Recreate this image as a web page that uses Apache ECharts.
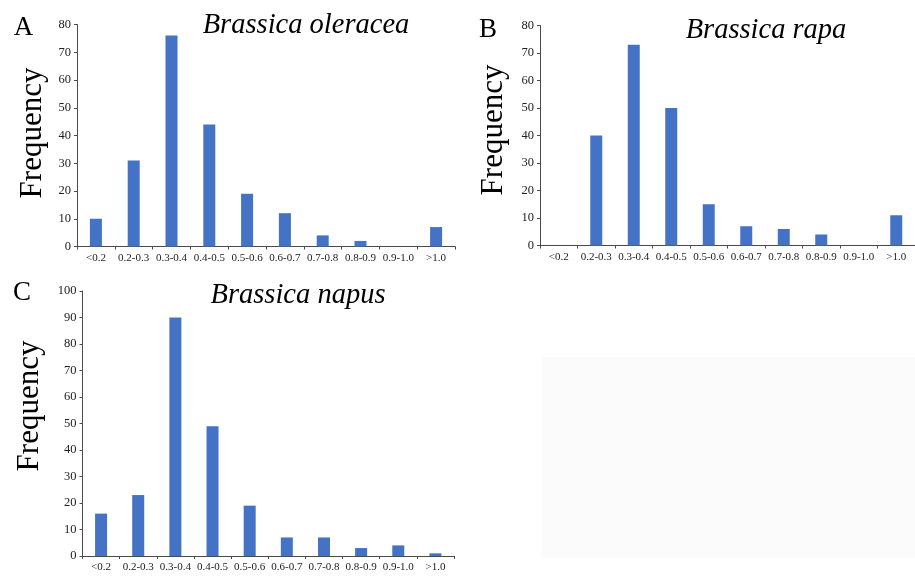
<!DOCTYPE html>
<html>
<head>
<meta charset="utf-8">
<script src="https://cdn.jsdelivr.net/npm/echarts@6/dist/echarts.min.js"></script>
<style>
html,body{margin:0;padding:0;background:#fff;}
#chart{width:915px;height:578px;}
</style>
</head>
<body>
<div id="chart"></div>
<script>
const categories = ['<0.2','0.2-0.3','0.3-0.4','0.4-0.5','0.5-0.6','0.6-0.7','0.7-0.8','0.8-0.9','0.9-1.0','>1.0'];
const oleraceaValues = [10, 31, 76, 44, 19, 12, 4, 2, 0, 7];
const rapaValues = [0, 40, 73, 50, 15, 7, 6, 4, 0, 11];
const napusValues = [16, 23, 90, 49, 19, 7, 7, 3, 4, 1];
const yTicksAB = [0, 80, 10];   // min, max, interval
const yTicksC = [0, 100, 10];
const panelTitles = ['Brassica oleracea', 'Brassica rapa', 'Brassica napus'];
const panelLetters = ['A', 'B', 'C'];
const yName = 'Frequency';

const FONT = '"Liberation Serif", "Times New Roman", serif';
const BAR = '#4472C4';
const AX = '#4a4a4a';

const grids = [
  {left: 77, top: 24.5, width: 378, height: 222},
  {left: 540, top: 25.5, width: 375, height: 220},
  {left: 82.5, top: 291, width: 371.5, height: 265}
];

function xAxis(i){
  return {
    type: 'category', gridIndex: i, data: categories, boundaryGap: true,
    axisLine: {lineStyle: {color: AX, width: 1}},
    axisTick: {show: true, length: 3, alignWithLabel: false, lineStyle: {color: AX}},
    axisLabel: {interval: 0, fontFamily: FONT, fontSize: 11, color: '#222', margin: 6}
  };
}
function yAxis(i, t){
  return {
    type: 'value', gridIndex: i, min: t[0], max: t[1], interval: t[2],
    axisLine: {show: true, lineStyle: {color: AX, width: 1}},
    axisTick: {show: true, length: 3, lineStyle: {color: AX}},
    splitLine: {show: false},
    axisLabel: {fontFamily: FONT, fontSize: 12.5, color: '#222', margin: 6}
  };
}
function bars(i, vals){
  return {
    type: 'bar', xAxisIndex: i, yAxisIndex: i, data: vals, barWidth: 12,
    itemStyle: {color: BAR}, silent: true
  };
}
function txt(x, y, text, size, opts){
  return Object.assign({
    type: 'text', x: x, y: y, z: 10,
    style: Object.assign({text: text, fontFamily: FONT, fontSize: size, fill: '#000',
      textAlign: 'center', textVerticalAlign: 'middle'}, opts && opts.style || {})
  }, opts && opts.el || {});
}

const chart = echarts.init(document.getElementById('chart'), null, {renderer: 'canvas'});
chart.setOption({
  animation: false,
  backgroundColor: '#fff',
  grid: grids,
  xAxis: [xAxis(0), xAxis(1), xAxis(2)],
  yAxis: [yAxis(0, yTicksAB), yAxis(1, yTicksAB), yAxis(2, yTicksC)],
  series: [bars(0, oleraceaValues), bars(1, rapaValues), bars(2, napusValues)],
  graphic: [
    {type: 'rect', z: -1, shape: {x: 542, y: 357, width: 373, height: 201}, style: {fill: '#fbfbfb'}},
    txt(23.5, 28, panelLetters[0], 27),
    txt(488, 30, panelLetters[1], 27),
    txt(22, 293, panelLetters[2], 27),
    txt(306, 26, panelTitles[0], 28.5, {style: {fontStyle: 'italic'}}),
    txt(766, 31, panelTitles[1], 28.5, {style: {fontStyle: 'italic'}}),
    txt(298, 296, panelTitles[2], 28.5, {style: {fontStyle: 'italic'}}),
    txt(33, 133, yName, 31, {el: {rotation: Math.PI / 2}}),
    txt(494, 130, yName, 31, {el: {rotation: Math.PI / 2}}),
    txt(30, 406, yName, 31, {el: {rotation: Math.PI / 2}})
  ]
});
</script>
</body>
</html>
